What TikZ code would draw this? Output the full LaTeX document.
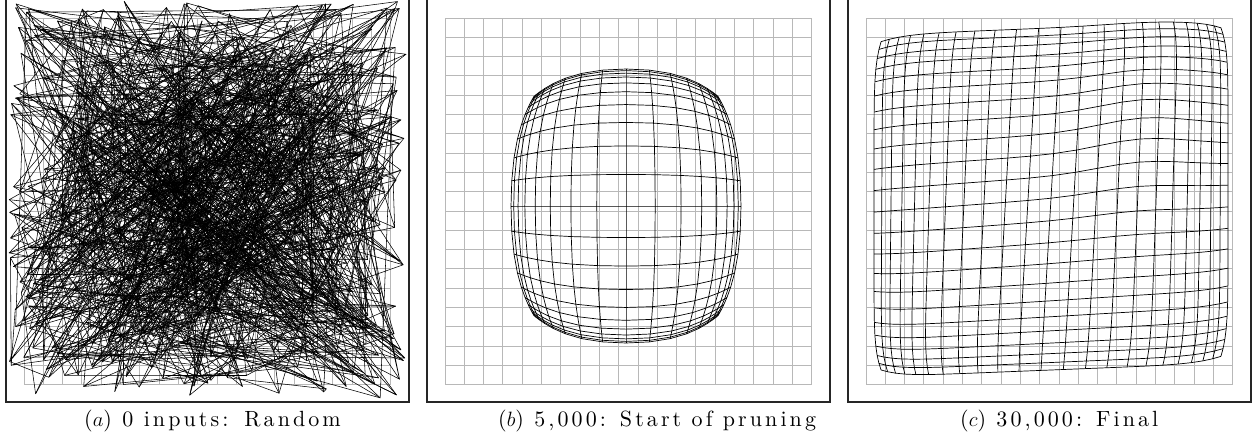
\documentclass[tikz,border=0pt]{standalone}
\usepackage{fontspec}
\newfontfamily\capfont{lmroman10-regular.otf}[LetterSpace=14]
\begin{document}
\begin{tikzpicture}[x=1pt,y=-1pt,
  frame/.style={draw=black!85, line width=1.3pt},
  gridline/.style={draw=black!28, line width=0.9pt},
  mesh/.style={draw=black, line width=0.7pt, line join=round},
  rmesh/.style={draw=black, line width=0.55pt, line join=round},
  caption/.style={font=\capfont\fontsize{22}{25}\selectfont, anchor=west, inner sep=0pt}]
\useasboundingbox (0,0) rectangle (1253,437);
% frames
\draw[frame] (6,-3) rectangle (409,402);
\draw[frame] (427,-3) rectangle (830,402);
\draw[frame] (848,-3) rectangle (1251,402);
% reference grids
\foreach \gx in {24,445,866} {
  \foreach \k in {0,...,19} {
    \draw[gridline] (\gx+\k*19.3,18) -- (\gx+\k*19.3,384.7);
    \draw[gridline] (\gx,18+\k*19.3) -- (\gx+366.7,18+\k*19.3);
  }
}
% ---------- panel a : random map ----------
\pgfmathsetseed{4711}
\foreach \i in {0,...,23} {
  \foreach \j in {0,...,23} {
    \pgfmathsetmacro\xx{208+199*rand}
    \pgfmathsetmacro\yy{200+199*rand}
    \coordinate (a-\i-\j) at (\xx,\yy);
  }
}
\foreach \i in {0,...,23} {
  \draw[rmesh] (a-\i-0) \foreach \j in {1,...,23} { -- (a-\i-\j) };
  \draw[rmesh] (a-0-\i) \foreach \j in {1,...,23} { -- (a-\j-\i) };
}
% ---------- panel b : start of pruning ----------
\foreach \i in {0,...,16} {
  \foreach \j in {0,...,20} {
    \pgfmathsetmacro\ua{tanh(2*(2*\i/16-1))/tanh(2)}
    \pgfmathsetmacro\vb{tanh(2.3*(2*\j/20-1))/tanh(2.3)}
    \pgfmathsetmacro\xx{626+115*(\ua)*(1-0.08*(\vb)*(\vb)*(\vb)*(\vb)-0.12*(\vb)*(\vb))}
    \pgfmathsetmacro\yy{206+137*(\vb)*(1-0.08*(\ua)*(\ua)*(\ua)*(\ua)-0.12*(\ua)*(\ua))}
    \coordinate (b-\i-\j) at (\xx,\yy);
  }
}
\foreach \i in {0,...,16} {
  \draw[mesh] (b-\i-0) \foreach \j in {1,...,20} { -- (b-\i-\j) };
}
\foreach \j in {0,...,20} {
  \draw[mesh] (b-0-\j) \foreach \i in {1,...,16} { -- (b-\i-\j) };
}
% ---------- panel c : final ----------
\foreach \i in {0,...,22} {
  \foreach \j in {0,...,22} {
    \pgfmathsetmacro\ua{tanh(1.2*(2*\i/22-1))/tanh(1.2)}
    \pgfmathsetmacro\vb{tanh(1.2*(2*\j/22-1))/tanh(1.2)}
    \pgfmathsetmacro\dx{177*(\ua)*(1-0.04*(\vb)^8)-10*(\vb)*(1-(\ua)*(\ua))}
    \pgfmathsetmacro\dy{171*(\vb)*(1-0.04*(\ua)^8)-6*(\ua)*(1-(\vb)*(\vb))-10*exp(-((\ua-0.5)/0.35)^2)*exp(-((\vb+0.35)/0.5)^2)}
    \pgfmathsetmacro\xx{1051+\dx}
    \pgfmathsetmacro\yy{199+\dy-0.04*\dx}
    \coordinate (c-\i-\j) at (\xx,\yy);
  }
}
\foreach \i in {0,...,22} {
  \draw[mesh] (c-\i-0) \foreach \j in {1,...,22} { -- (c-\i-\j) };
  \draw[mesh] (c-0-\i) \foreach \j in {1,...,22} { -- (c-\j-\i) };
}
% captions
\node[caption] (capa) at (84,421) {($a$) 0 inputs:\hspace{16pt}Random};
\node[caption] (capb) at (498,421) {($b$) 5,000:\hspace{14pt}Start of pruning};
\node[caption] (capc) at (960,421) {($c$) 30,000:\hspace{14pt}Final};
\end{tikzpicture}
\end{document}
